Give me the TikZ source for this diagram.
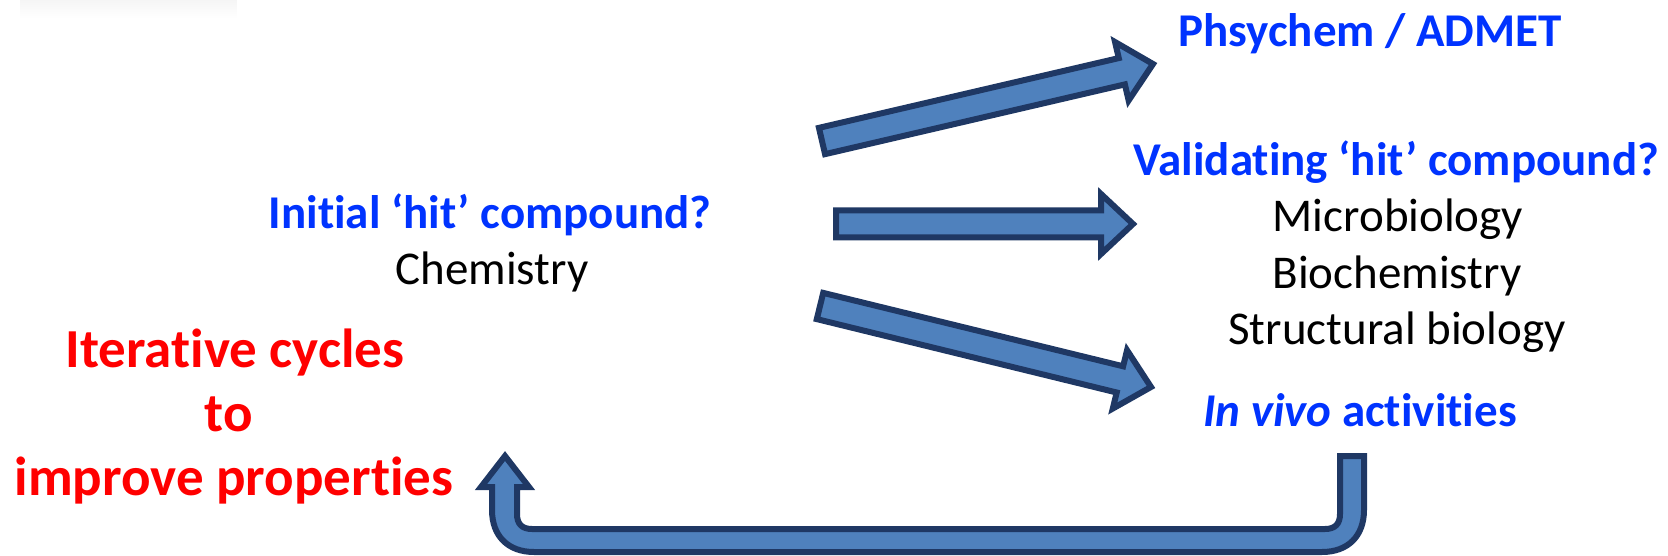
\documentclass[tikz,border=0pt]{standalone}
\usepackage{fontspec}
\setmainfont{Carlito}[Ligatures={NoCommon}]
\usetikzlibrary{calc,fadings}
\newcommand\nolig{\kern0pt{}}
\definecolor{txtblue}{RGB}{0,51,255}
\definecolor{txtred}{RGB}{255,0,0}
\definecolor{arrowfill}{RGB}{79,129,189}
\definecolor{arrowline}{RGB}{31,56,100}
\tikzset{
  blockarrow/.style={fill=arrowfill, draw=arrowline, line width=6pt, line join=miter},
  bluehead/.style={anchor=base, inner sep=0pt, text=txtblue, font=\fontsize{47}{56}\selectfont\bfseries},
  plain/.style={anchor=base, inner sep=0pt, text=black, font=\fontsize{47}{56}\selectfont},
  redhead/.style={anchor=base, inner sep=0pt, text=txtred, font=\fontsize{55}{64}\selectfont\bfseries}
}
\newcommand\blkarrow[2]{%
  \coordinate (#1-hb) at ($(#2)!32pt!(#1)$);
  \filldraw[blockarrow] ($(#1)!13.5pt!90:(#2)$) -- ($(#1-hb)!13.5pt!90:(#2)$) -- ($(#1-hb)!30pt!90:(#2)$) -- (#2) -- ($(#1-hb)!30pt!-90:(#2)$) -- ($(#1-hb)!13.5pt!-90:(#2)$) -- ($(#1)!13.5pt!-90:(#2)$) -- cycle;}
\begin{document}
\begin{tikzpicture}[x=1pt,y=-1pt]
\useasboundingbox (0,0) rectangle (1668,556);
% faint shadow at top-left
\fill[gray!8, path fading=south] (20,0) rectangle (237,18);

% texts
\node[bluehead] (admet) at (1370,47) {Phsychem / ADMET};
\node[bluehead] (valid) at (1396,176) {Validat\nolig ing ‘hit’ compound?};
\node[plain] (micro) at (1398,232) {Microbiology};
\node[plain] (bioch) at (1397,288) {Biochemistry};
\node[plain] (struct) at (1397,344) {Structural biology};
\node[bluehead] (vivo) at (1360,426) {\itshape In vivo\upshape{} activit\nolig ies};
\node[bluehead] (initial) at (490,229) {Init\nolig ial ‘hit’ compound?};
\node[plain] (chem) at (492,284) {Chemistry};
\node[redhead] (iter) at (235,367) {Iterat\nolig ive cycles};
\node[redhead] (to) at (229,431) {to};
\node[redhead] (improve) at (234,495) {improve propert\nolig ies};

% block arrows
\coordinate (a1t) at (822,141);
\coordinate (a1h) at (1153,64);
\coordinate (a2t) at (836,224);
\coordinate (a2h) at (1133,224);
\coordinate (a3t) at (820,306);
\coordinate (a3h) at (1151,387);
\blkarrow{a1t}{a1h}
\blkarrow{a2t}{a2h}
\blkarrow{a3t}{a3h}

% U-turn arrow
\coordinate (ustart) at (1352,456);
\coordinate (utip) at (505,456);
\filldraw[blockarrow]
  (1340,456) -- (1364,456) -- (1364,510)
  .. controls (1364,536) and (1348,552) .. (1322,552)
  -- (534,552)
  .. controls (508,552) and (492,536) .. (492,510)
  -- (492,487) -- (481,487) -- (utip) -- (529,487) -- (517,487) -- (517,514)
  .. controls (517,524) and (522,529) .. (532,529)
  -- (1325,529)
  .. controls (1335,529) and (1340,524) .. (1340,514)
  -- cycle;
\end{tikzpicture}
\end{document}
